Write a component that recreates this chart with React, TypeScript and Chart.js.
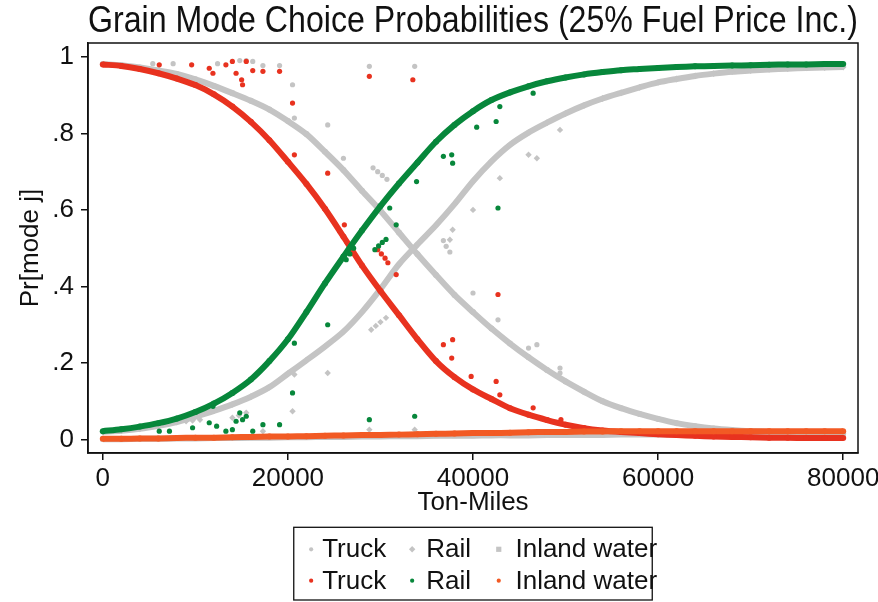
import React, { useEffect, useRef } from "react";
import { Chart, registerables } from "chart.js";

Chart.register(...registerables);

// ---------- data ----------
const TON_MILES = [
  0, 2000, 4000, 6000, 8000, 10000, 12000, 14000, 16000, 18000, 20000,
  22000, 24000, 26000, 28000, 30000, 32000, 34000, 36000, 38000, 40000,
  42000, 44000, 46000, 48000, 50000, 52000, 54000, 56000, 58000, 60000,
  62000, 64000, 66000, 68000, 70000, 72000, 74000, 76000, 78000, 80000,
];

// base case (gray)
const BASE_TRUCK = [
  0.981, 0.978, 0.972, 0.964, 0.955, 0.941, 0.924, 0.905, 0.885, 0.862, 0.832,
  0.798, 0.752, 0.704, 0.65, 0.598, 0.541, 0.484, 0.43, 0.378, 0.333,
  0.29, 0.251, 0.215, 0.182, 0.152, 0.125, 0.1, 0.082, 0.067, 0.054,
  0.043, 0.035, 0.029, 0.025, 0.022, 0.02, 0.019, 0.018, 0.017, 0.016,
];
const BASE_RAIL = [
  0.02, 0.023, 0.028, 0.036, 0.046, 0.06, 0.075, 0.092, 0.112, 0.137, 0.172,
  0.207, 0.243, 0.282, 0.333, 0.393, 0.458, 0.51, 0.56, 0.615, 0.675,
  0.727, 0.77, 0.802, 0.828, 0.852, 0.873, 0.891, 0.906, 0.92, 0.933,
  0.942, 0.95, 0.956, 0.961, 0.964, 0.967, 0.969, 0.971, 0.972, 0.973,
];
const BASE_WATER = [
  0.001, 0.001, 0.002, 0.002, 0.003, 0.003, 0.004, 0.004, 0.005, 0.005, 0.006,
  0.006, 0.007, 0.007, 0.008, 0.008, 0.009, 0.009, 0.01, 0.01, 0.01,
  0.011, 0.011, 0.011, 0.012, 0.012, 0.012, 0.012, 0.013, 0.013, 0.013,
  0.013, 0.013, 0.013, 0.013, 0.013, 0.013, 0.013, 0.013, 0.013, 0.013,
];

// 25% fuel price increase
const FUEL_TRUCK = [
  0.98, 0.976, 0.968, 0.957, 0.943, 0.926, 0.902, 0.87, 0.83, 0.782, 0.726,
  0.668, 0.603, 0.53, 0.455, 0.388, 0.325, 0.262, 0.205, 0.163, 0.131,
  0.106, 0.082, 0.065, 0.051, 0.039, 0.03, 0.024, 0.02, 0.017, 0.014,
  0.012, 0.01, 0.008, 0.007, 0.006, 0.005, 0.005, 0.004, 0.004, 0.004,
];
const FUEL_RAIL = [
  0.022, 0.027, 0.034, 0.043, 0.055, 0.072, 0.094, 0.122, 0.157, 0.205, 0.262,
  0.333, 0.408, 0.478, 0.546, 0.61, 0.669, 0.724, 0.778, 0.822, 0.858,
  0.887, 0.907, 0.923, 0.936, 0.946, 0.954, 0.96, 0.965, 0.968, 0.971,
  0.973, 0.975, 0.976, 0.977, 0.978, 0.979, 0.98, 0.98, 0.981, 0.981,
];
const FUEL_WATER = [
  0.002, 0.002, 0.003, 0.003, 0.004, 0.005, 0.005, 0.006, 0.007, 0.008, 0.008,
  0.009, 0.01, 0.011, 0.012, 0.012, 0.013, 0.014, 0.015, 0.016, 0.017,
  0.017, 0.018, 0.019, 0.02, 0.02, 0.021, 0.021, 0.022, 0.022, 0.022,
  0.022, 0.022, 0.022, 0.022, 0.022, 0.022, 0.022, 0.022, 0.022, 0.022,
];

// scattered individual observations away from the main bands
const BASE_TRUCK_OBS_X = [
  5400, 7600, 12400, 14800, 15500, 16200, 17300, 19100, 20500, 20700, 24300,
  26000, 28800, 29200, 29700, 30200, 30700, 33700, 36800, 37100, 37500, 40000,
  42700, 46000, 46900, 49400, 49400,
];
const BASE_TRUCK_OBS_Y = [
  0.982, 0.982, 0.982, 0.99, 0.99, 0.988, 0.977, 0.977, 0.927, 0.84, 0.822,
  0.735, 0.975, 0.71, 0.7, 0.69, 0.68, 0.975, 0.52, 0.505, 0.49, 0.383,
  0.313, 0.239, 0.248, 0.187, 0.174,
];
const BASE_RAIL_OBS_X = [
  9000, 9700, 10500, 14000, 14700, 15500, 17300, 20500, 20700, 24300, 28800,
  29000, 29500, 30000, 30600, 33700, 37500, 37800, 40000, 42900, 46000, 46900,
  49400,
];
const BASE_RAIL_OBS_Y = [
  0.048, 0.05, 0.052, 0.057, 0.063, 0.07, 0.022, 0.074, 0.17, 0.174, 0.026,
  0.287, 0.297, 0.307, 0.318, 0.026, 0.522, 0.548, 0.6, 0.683, 0.744, 0.735,
  0.809,
];
const FUEL_TRUCK_OBS_X = [
  6100, 9600, 11500, 11900, 13300, 14000, 14400, 15000, 15100, 15500, 16200,
  17300, 19100, 20500, 20700, 24300, 25600, 26100, 26400, 26800, 28800, 29700,
  30100, 30500, 30800, 31700, 33500, 36800, 37700, 37800, 39800, 42500, 42700,
  42900, 46500, 49500,
];
const FUEL_TRUCK_OBS_Y = [
  0.979, 0.979, 0.97, 0.957, 0.979, 0.988, 0.957, 0.94, 0.927, 0.988, 0.964,
  0.962, 0.962, 0.879, 0.744, 0.696, 0.544, 0.561, 0.515, 0.505, 0.949, 0.496,
  0.485, 0.474, 0.462, 0.431, 0.94, 0.248, 0.213, 0.261, 0.165, 0.152, 0.379,
  0.117, 0.083, 0.052,
];
const FUEL_RAIL_OBS_X = [
  6100, 7200, 9700, 11500, 11900, 12300, 13300, 14000, 14400, 14800, 15100,
  15500, 16200, 17300, 19100, 20500, 20700, 24300, 26300, 26700, 27100, 28800,
  29400, 29800, 30200, 30600, 31000, 31700, 33700, 33900, 36800, 37700, 37800,
  40400, 42500, 42700, 42900, 46500,
];
const FUEL_RAIL_OBS_Y = [
  0.022, 0.022, 0.031, 0.044, 0.087, 0.035, 0.022, 0.026, 0.048, 0.07, 0.052,
  0.061, 0.022, 0.039, 0.039, 0.122, 0.252, 0.3, 0.47, 0.485, 0.5, 0.052,
  0.496, 0.506, 0.515, 0.523, 0.605, 0.561, 0.061, 0.674, 0.74, 0.744, 0.722,
  0.816, 0.831, 0.605, 0.87, 0.905,
];

const X_TICKS = [0, 20000, 40000, 60000, 80000];
const Y_TICKS = [0, 0.2, 0.4, 0.6, 0.8, 1];
const Y_TICK_LABELS = ["0", ".2", ".4", ".6", ".8", "1"];

const TITLE = "Grain Mode Choice Probabilities (25% Fuel Price Inc.)";
const X_TITLE = "Ton-Miles";
const Y_TITLE = "Pr[mode j]";
const MODE_LABELS = ["Truck", "Rail", "Inland water"];

// ---------- styles ----------
const FONT = "'Liberation Sans Narrow', 'Liberation Sans', Arial, sans-serif";
const GRAY = "#c4c4c4";
const RED = "#e8321f";
const GREEN = "#07873b";
const ORANGE = "#f25a24";
const INK = "#111111";

const toPts = (xs: number[], ys: number[]) => xs.map((x, i) => ({ x, y: ys[i] }));

function band(label: string, xs: number[], ys: number[], color: string, style: string, order: number, legend: boolean) {
  return {
    label,
    data: toPts(xs, ys),
    showLine: true,
    borderColor: color,
    borderWidth: 6,
    tension: 0.3,
    pointStyle: style,
    pointRadius: style === "circle" ? 3 : 3.4,
    pointBorderWidth: 0,
    pointBackgroundColor: color,
    backgroundColor: color,
    order,
    inLegend: legend,
  };
}
function dots(label: string, xs: number[], ys: number[], color: string, style: string, order: number) {
  return {
    label,
    data: toPts(xs, ys),
    showLine: false,
    pointStyle: style,
    pointRadius: style === "circle" ? 2.6 : 3.2,
    pointBorderWidth: 0,
    pointBackgroundColor: color,
    backgroundColor: color,
    borderColor: color,
    order,
    inLegend: false,
  };
}

const framePlugin = {
  id: "frame",
  afterDatasetsDraw(chart: any) {
    const { ctx, chartArea: a } = chart;
    ctx.save();
    ctx.strokeStyle = INK;
    ctx.lineWidth = 1.5;
    ctx.strokeRect(a.left, a.top, a.right - a.left, a.bottom - a.top);
    ctx.restore();
  },
};

const legendPlugin = {
  id: "stataLegend",
  afterDraw(chart: any) {
    const { ctx, chartArea: a } = chart;
    const items = chart.data.datasets.filter((d: any) => d.inLegend);
    const cx = (a.left + a.right) / 2;
    const w = 358.5;
    const h = 72.7;
    const left = cx - w / 2;
    const top = a.bottom + 74.3;
    ctx.save();
    ctx.strokeStyle = INK;
    ctx.lineWidth = 1.3;
    ctx.strokeRect(left, top, w, h);
    const rowY = [top + 22, top + 53.4];
    const markX = [17.4, 118.4, 205];
    const textX = [28.4, 132.4, 221.7];
    ctx.font = `26px ${FONT}`;
    ctx.textBaseline = "middle";
    ctx.textAlign = "left";
    items.forEach((d: any, i: number) => {
      const r = Math.floor(i / 3);
      const c = i % 3;
      const mx = left + markX[c];
      const my = rowY[r];
      ctx.fillStyle = d.pointBackgroundColor;
      ctx.beginPath();
      if (d.pointStyle === "rectRot") {
        ctx.moveTo(mx, my - 3.2);
        ctx.lineTo(mx + 3.2, my);
        ctx.lineTo(mx, my + 3.2);
        ctx.lineTo(mx - 3.2, my);
        ctx.closePath();
      } else if (d.pointStyle === "rect") {
        ctx.rect(mx - 2.6, my - 2.6, 5.2, 5.2);
      } else {
        ctx.arc(mx, my, 2.1, 0, Math.PI * 2);
      }
      ctx.fill();
      ctx.fillStyle = INK;
      ctx.fillText(d.label, left + textX[c], my + 1);
    });
    ctx.restore();
  },
};

export default function App() {
  const ref = useRef<HTMLCanvasElement | null>(null);

  useEffect(() => {
    if (!ref.current) return;
    const tickFont = { family: FONT, size: 26, lineHeight: 1.2 };
    const chart = new Chart(ref.current, {
      type: "scatter",
      data: {
        datasets: [
          band(MODE_LABELS[0], TON_MILES, BASE_TRUCK, GRAY, "circle", 6, true),
          band(MODE_LABELS[1], TON_MILES, BASE_RAIL, GRAY, "rectRot", 5, true),
          band(MODE_LABELS[2], TON_MILES, BASE_WATER, GRAY, "rect", 4, true),
          band(MODE_LABELS[0], TON_MILES, FUEL_TRUCK, RED, "circle", 2, true),
          band(MODE_LABELS[1], TON_MILES, FUEL_RAIL, GREEN, "circle", 1, true),
          band(MODE_LABELS[2], TON_MILES, FUEL_WATER, ORANGE, "circle", 0, true),
          dots("Truck obs", BASE_TRUCK_OBS_X, BASE_TRUCK_OBS_Y, GRAY, "circle", 6),
          dots("Rail obs", BASE_RAIL_OBS_X, BASE_RAIL_OBS_Y, GRAY, "rectRot", 5),
          dots("Truck obs", FUEL_TRUCK_OBS_X, FUEL_TRUCK_OBS_Y, RED, "circle", 2),
          dots("Rail obs", FUEL_RAIL_OBS_X, FUEL_RAIL_OBS_Y, GREEN, "circle", 1),
        ] as any,
      },
      options: {
        responsive: false,
        animation: false,
        events: [],
        layout: { padding: { left: 0, top: 0, right: 20, bottom: 79 } },
        plugins: {
          legend: { display: false },
          tooltip: { enabled: false },
          title: {
            display: true,
            text: TITLE,
            fullSize: false,
            color: INK,
            font: { family: FONT, size: 36, weight: "normal", lineHeight: 1 },
            padding: { top: 4, bottom: 3 },
          },
        },
        scales: {
          x: {
            type: "linear",
            min: -1600,
            max: 81600,
            afterBuildTicks: (s: any) => {
              s.ticks = X_TICKS.map((v) => ({ value: v }));
            },
            afterFit: (s: any) => {
              s.height = 70;
              s.paddingLeft = 0;
              s.paddingRight = 0;
            },
            ticks: {
              autoSkip: false,
              maxRotation: 0,
              padding: 3,
              color: INK,
              font: tickFont,
              callback: (v: any) => String(v),
            },
            grid: {
              display: true,
              drawOnChartArea: false,
              drawTicks: true,
              tickLength: 7,
              color: INK,
              lineWidth: 1.5,
            },
            border: { display: true, color: INK, width: 1.5 },
            title: {
              display: true,
              text: X_TITLE,
              color: INK,
              font: tickFont,
              padding: { top: 0, bottom: 4.4 },
            },
          },
          y: {
            type: "linear",
            min: -0.035,
            max: 1.036,
            afterBuildTicks: (s: any) => {
              s.ticks = Y_TICKS.map((v) => ({ value: v }));
            },
            afterFit: (s: any) => {
              s.width = 88;
              s.paddingTop = 0;
              s.paddingBottom = 0;
            },
            ticks: {
              autoSkip: false,
              padding: 7,
              color: INK,
              font: tickFont,
              callback: (v: any) => {
                const i = Y_TICKS.findIndex((t) => Math.abs(t - Number(v)) < 1e-9);
                return i >= 0 ? Y_TICK_LABELS[i] : "";
              },
            },
            grid: {
              display: true,
              drawOnChartArea: false,
              drawTicks: true,
              tickLength: 7,
              color: INK,
              lineWidth: 1.5,
            },
            border: { display: true, color: INK, width: 1.5 },
            title: {
              display: true,
              text: Y_TITLE,
              color: INK,
              font: tickFont,
              padding: { top: 15, bottom: 0 },
            },
          },
        },
      } as any,
      plugins: [framePlugin, legendPlugin],
    });
    return () => chart.destroy();
  }, []);

  return (
    <div style={{ position: "absolute", left: 0, top: 0, width: 878, height: 602, background: "#fff" }}>
      <canvas ref={ref} width={878} height={602} style={{ display: "block" }} />
    </div>
  );
}
